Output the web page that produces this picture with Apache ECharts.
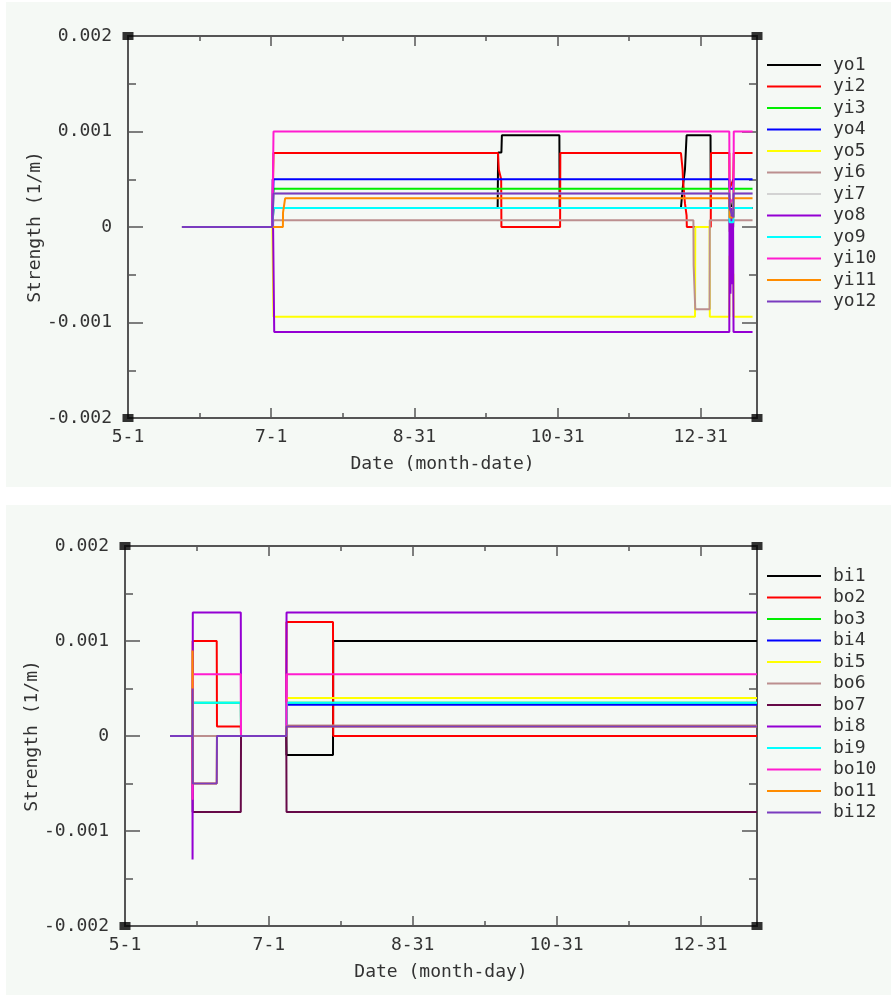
<!DOCTYPE html>
<html>
<head>
<meta charset="utf-8">
<script src="https://cdn.jsdelivr.net/npm/echarts@6/dist/echarts.min.js"></script>
<style>
html, body { margin: 0; padding: 0; background: #ffffff; }
#chart { width: 891px; height: 995px; }
</style>
</head>
<body>
<div id="chart"></div>
<script>
// ---- axis ticks (x in days counted from May 1) ----
const xTickDays = [0, 61, 122, 183, 244];
const xTickLabels = ['5-1', '7-1', '8-31', '10-31', '12-31'];
const xMax = 268;
const yTickValues = [-0.002, -0.001, 0, 0.001, 0.002];
const yTickLabels = ['-0.002', '-0.001', '0', '0.001', '0.002'];

// ---- upper panel: y-plane correctors ----
const topNames = ['yo1', 'yi2', 'yi3', 'yo4', 'yo5', 'yi6', 'yi7', 'yo8', 'yo9', 'yi10', 'yi11', 'yo12'];
const topColors = ['#000000', '#ff0000', '#00ee00', '#0000ff', '#ffff00', '#bc8f8f', '#d3d3d3', '#9400d3', '#00ffff', '#ff1ccf', '#ff8c00', '#7a3cbf'];

const yo1 = [[23, 0], [61.5, 0], [62, 0.0002], [157.5, 0.0002], [157.7, 0.00078], [159.1, 0.00078], [159.3, 0.00096], [183.8, 0.00096], [183.9, 0.0002], [235.6, 0.0002], [236.3, 0.0004], [237.3, 0.0006], [238.0, 0.00096], [248.2, 0.00096], [248.3, 0.0002], [256.2, 0.0002], [256.3, 0.0003], [257.9, 0.0001], [258.0, 0.0002], [266.1, 0.0002]];
const yi2 = [[23, 0], [61.5, 0], [62, 0.000775], [157.6, 0.000775], [158.0, 0.0006], [159.0, 0.0005], [159.1, 0], [184.1, 0], [184.2, 0.000775], [235.6, 0.000775], [236.3, 0.0006], [236.5, 0.00048], [237.3, 0.00025], [238.0, 0.00012], [238.1, 0], [248.3, 0], [248.4, 0.000775], [256.2, 0.000775], [256.3, 0.0004], [257.9, 0.0005], [258.1, 0.000775], [266.1, 0.000775]];
const yi3 = [[23, 0], [61.5, 0], [62, 0.0004], [256.2, 0.0004], [256.3, 0.0002], [257.9, 0.0002], [258.0, 0.0004], [266.1, 0.0004]];
const yo4 = [[23, 0], [61.5, 0], [62, 0.0005], [256.2, 0.0005], [256.3, 0.0004], [257.9, 0.0004], [258.0, 0.0005], [266.1, 0.0005]];
const yo5 = [[23, 0], [61.5, 0], [62, -0.00094], [241.6, -0.00094], [241.7, 0], [247.8, 0], [247.9, -0.00094], [256.2, -0.00094], [256.3, -0.0003], [257.9, -0.0005], [258.0, -0.00094], [266.1, -0.00094]];
const yi6 = [[23, 0], [61.5, 0], [62, 0.00007], [240.9, 0.00007], [241.0, -0.0004], [241.6, -0.0004], [241.7, -0.00086], [247.8, -0.00086], [247.9, 0.00007], [256.2, 0.00007], [256.3, -0.00005], [257.9, 0], [258.0, 0.00007], [266.1, 0.00007]];
const yi7 = [[23, 0], [61.5, 0], [62, 0.00035], [256.2, 0.00035], [256.3, 0.0002], [257.9, 0.0002], [258.0, 0.00035], [266.1, 0.00035]];
const yo8 = [[23, 0], [61.4, 0], [61.6, 0.0005], [62.3, -0.0011], [256.2, -0.0011], [256.3, 0.0003], [256.7, -0.0007], [257.1, 0.0002], [257.5, -0.0006], [257.8, 0.0001], [258.0, -0.0011], [266.1, -0.0011]];
const yo9 = [[23, 0], [61.5, 0], [62, 0.0002], [256.2, 0.0002], [256.3, 0.00005], [257.9, 0.00005], [258.0, 0.0002], [266.1, 0.0002]];
const yi10 = [[23, 0], [61.5, 0], [62, 0.001], [256.2, 0.001], [256.3, 0.00025], [258.0, 0.0003], [258.1, 0.001], [266.1, 0.001]];
const yi11 = [[23, 0], [66.0, 0], [66.05, 0.00015], [66.9, 0.00015], [66.95, 0.0003], [256.2, 0.0003], [256.3, 0.0001], [257.9, 0.0001], [258.0, 0.0003], [266.1, 0.0003]];
const yo12 = [[23, 0], [61.5, 0], [62, 0.00035], [256.2, 0.00035], [256.3, 0.0002], [257.9, 0.0001], [258.0, 0.00035], [266.1, 0.00035]];
const topData = [yo1, yi2, yi3, yo4, yo5, yi6, yi7, yo8, yo9, yi10, yi11, yo12];

// ---- lower panel: b-plane correctors ----
const botNames = ['bi1', 'bo2', 'bo3', 'bi4', 'bi5', 'bo6', 'bo7', 'bi8', 'bi9', 'bo10', 'bo11', 'bi12'];
const botColors = ['#000000', '#ff0000', '#00ee00', '#0000ff', '#ffff00', '#bc8f8f', '#660a48', '#9400d3', '#00ffff', '#ff1ccf', '#ff8c00', '#7a3cbf'];

const bi1 = [[19.1, 0], [68.4, 0], [68.5, -0.0002], [88.2, -0.0002], [88.3, 0.001], [268, 0.001]];
const bo2 = [[19.1, 0], [28.6, 0], [28.7, 0.001], [38.9, 0.001], [39.0, 0.0001], [49.1, 0.0001], [49.2, 0], [68.4, 0], [68.5, 0.0012], [88.2, 0.0012], [88.3, 0], [268, 0]];
const bo3 = [[19.1, 0], [28.6, 0], [28.7, 0.00035], [49.1, 0.00035], [49.2, 0], [68.4, 0], [68.5, 0.00035], [268, 0.00035]];
const bi4 = [[19.1, 0], [68.4, 0], [68.5, 0.00033], [268, 0.00033]];
const bi5 = [[19.1, 0], [68.4, 0], [68.5, 0.0004], [268, 0.0004]];
const bo6 = [[19.1, 0], [68.4, 0], [68.5, 0.00011], [268, 0.00011]];
const bo7 = [[19.1, 0], [28.6, 0], [28.7, -0.0008], [49.1, -0.0008], [49.2, 0], [68.4, 0], [68.5, -0.0008], [268, -0.0008]];
const bi8 = [[19.1, 0], [28.6, 0], [28.65, -0.0013], [28.75, 0.0013], [49.1, 0.0013], [49.2, 0], [68.4, 0], [68.5, 0.0013], [268, 0.0013]];
const bi9 = [[19.1, 0], [28.6, 0], [28.7, 0.00035], [49.1, 0.00035], [49.2, 0], [68.4, 0], [68.5, 0.00035], [268, 0.00035]];
const bo10 = [[19.1, 0], [28.6, 0], [28.65, -0.00067], [28.75, 0.00065], [49.1, 0.00065], [49.2, 0], [68.4, 0], [68.5, 0.00065], [268, 0.00065]];
const bo11 = [[19.1, 0], [28.6, 0], [28.65, 0.0009], [28.75, -0.0005], [38.9, -0.0005], [39.0, 0], [68.4, 0], [68.5, 0.0001], [268, 0.0001]];
const bi12 = [[19.1, 0], [28.6, 0], [28.65, 0.0005], [28.75, -0.0005], [38.9, -0.0005], [39.0, 0], [68.4, 0], [68.5, 0.0001], [268, 0.0001]];
const botData = [bi1, bo2, bo3, bi4, bi5, bo6, bo7, bi8, bi9, bo10, bo11, bi12];

// ---- styling ----
const FONT = 'DejaVu Sans Mono';
const TEXT = '#333333';
const AXIS = '#555555';
const PANEL = '#f5f9f5';

function xLabel(v) {
  const i = xTickDays.findIndex(t => Math.abs(t - v) < 1e-6);
  return i < 0 ? '' : xTickLabels[i];
}
function yLabel(v) {
  const i = yTickValues.findIndex(t => Math.abs(t - v) < 1e-9);
  return i < 0 ? '' : yTickLabels[i];
}

function makeXAxes(gridIndex, title) {
  const base = { type: 'value', gridIndex, min: 0, max: xMax, splitLine: { show: false } };
  const lineOn = { show: true, onZero: false, lineStyle: { color: AXIS, width: 2 } };
  const lineOff = { show: false, onZero: false };
  const tick = len => ({ show: true, inside: true, length: len, lineStyle: { color: AXIS, width: 1.5 } });
  return [
    Object.assign({}, base, {
      position: 'bottom', interval: 61, axisLine: lineOn, axisTick: tick(10),
      axisLabel: { show: true, margin: 10, formatter: xLabel, fontFamily: FONT, fontSize: 18, color: TEXT },
      name: title, nameLocation: 'middle', nameGap: 37, nameMoveOverlap: false,
      nameTextStyle: { fontFamily: FONT, fontSize: 18, color: TEXT }
    }),
    Object.assign({}, base, { position: 'bottom', interval: 30.5, axisLine: lineOff, axisTick: tick(5), axisLabel: { show: false } }),
    Object.assign({}, base, { position: 'top', interval: 61, axisLine: lineOn, axisTick: tick(10), axisLabel: { show: false } }),
    Object.assign({}, base, { position: 'top', interval: 30.5, axisLine: lineOff, axisTick: tick(5), axisLabel: { show: false } })
  ];
}

function makeYAxes(gridIndex) {
  const base = {
    type: 'value', gridIndex, min: -0.002, max: 0.002, interval: 0.001,
    splitLine: { show: false },
    axisLine: { show: true, onZero: false, lineStyle: { color: AXIS, width: 2 } },
    axisTick: { show: true, inside: true, length: 15, lineStyle: { color: AXIS, width: 1.5 } },
    minorTick: { show: true, splitNumber: 2, length: 8, lineStyle: { color: AXIS, width: 1.5 } },
    minorSplitLine: { show: false }
  };
  return [
    Object.assign({}, base, {
      position: 'left',
      axisLabel: { show: true, margin: 16, formatter: yLabel, fontFamily: FONT, fontSize: 18, color: TEXT },
      name: 'Strength (1/m)', nameLocation: 'middle', nameGap: 84, nameMoveOverlap: false,
      nameTextStyle: { fontFamily: FONT, fontSize: 18, color: TEXT }
    }),
    Object.assign({}, base, { position: 'right', axisLabel: { show: false } })
  ];
}

function makeLines(names, colors, data, xAxisIndex, yAxisIndex) {
  return names.map((n, i) => ({
    name: n, type: 'line', xAxisIndex, yAxisIndex,
    data: data[i], showSymbol: false, symbol: 'none',
    color: colors[i], lineStyle: { color: colors[i], width: 2 },
    emphasis: { disabled: true }, animation: false
  }));
}

function corners(xAxisIndex, yAxisIndex) {
  return {
    name: 'frame', type: 'scatter', xAxisIndex, yAxisIndex,
    data: [[0, -0.002], [0, 0.002], [xMax, -0.002], [xMax, 0.002]],
    symbol: 'rect', symbolSize: [11, 8], itemStyle: { color: '#000000' },
    z: 5, silent: true, animation: false, clip: false
  };
}

function makeLegend(names, top) {
  return {
    data: names, orient: 'vertical', left: 767, top, padding: 0,
    icon: 'rect', itemWidth: 54, itemHeight: 2, itemGap: 3.5, selectedMode: false,
    textStyle: { fontFamily: FONT, fontSize: 18, color: TEXT, lineHeight: 18, padding: [0, 0, 0, 7] }
  };
}

const chart = echarts.init(document.getElementById('chart'), null, { renderer: 'canvas' });
chart.setOption({
  backgroundColor: '#ffffff',
  animation: false,
  graphic: [
    { type: 'rect', z: -10, silent: true, shape: { x: 6, y: 2, width: 885, height: 485 }, style: { fill: PANEL } },
    { type: 'rect', z: -10, silent: true, shape: { x: 6, y: 505, width: 885, height: 490 }, style: { fill: PANEL } }
  ],
  grid: [
    { left: 128, top: 36, width: 629, height: 382, containLabel: false },
    { left: 125, top: 546, width: 632, height: 380, containLabel: false }
  ],
  legend: [makeLegend(topNames, 56), makeLegend(botNames, 567)],
  xAxis: makeXAxes(0, 'Date (month-date)').concat(makeXAxes(1, 'Date (month-day)')),
  yAxis: makeYAxes(0).concat(makeYAxes(1)),
  series: []
    .concat(makeLines(topNames, topColors, topData, 0, 0))
    .concat([corners(0, 0)])
    .concat(makeLines(botNames, botColors, botData, 4, 2))
    .concat([corners(4, 2)])
});
</script>
</body>
</html>
